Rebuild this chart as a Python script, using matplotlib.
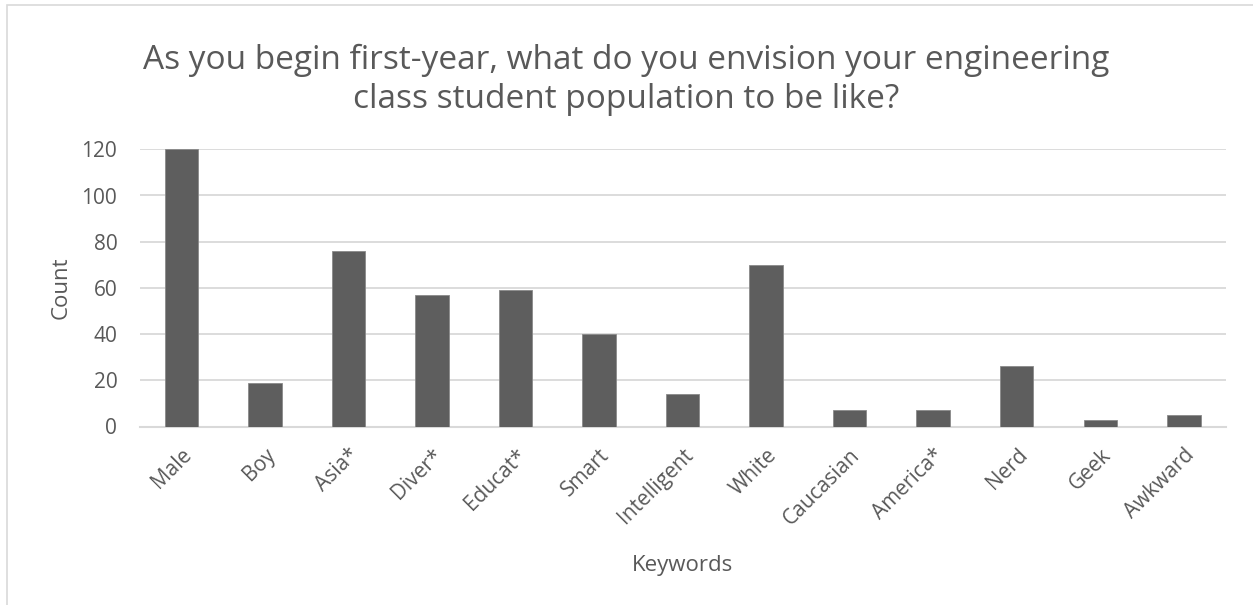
import matplotlib.pyplot as plt
from matplotlib.patches import Rectangle

# data
keywords = ['Male', 'Boy', 'Asia*', 'Diver*', 'Educat*', 'Smart', 'Intelligent',
            'White', 'Caucasian', 'America*', 'Nerd', 'Geek', 'Awkward']
counts = [120, 19, 76, 57, 59, 40, 14, 70, 7, 7, 26, 3, 5]
y_ticks = [0, 20, 40, 60, 80, 100, 120]

txt = '#595959'
bar_col = '#5e5e5e'
grid = '#d9d9d9'
plt.rcParams['font.family'] = ['Open Sans', 'DejaVu Sans']

W, H = 1253, 605
fig = plt.figure(figsize=(W / 100, H / 100), dpi=100)

# chart border (cropped at right and bottom in the reference)
fig.patches.append(Rectangle((7 / W, -0.1), 1.2, 1 - 5 / H + 0.1, transform=fig.transFigure,
                             fill=False, edgecolor=grid, linewidth=1.2))

left, right, top, bottom = 139.5, 1225.6, 149.3, 426.5
ax_w, ax_h = right - left, bottom - top
ax = fig.add_axes([left / W, 1 - bottom / H, ax_w / W, ax_h / H])

x = range(len(keywords))
ax.bar(x, counts, width=0.4, color=bar_col, edgecolor='#8a8a8a', linewidth=0.6, zorder=3)

ax.set_xlim(-0.5, len(keywords) - 0.5)
ax.set_ylim(0, 120)
ax.set_yticks(y_ticks)
ax.yaxis.grid(True, color=grid, linewidth=1.3, zorder=0)
for s in ['top', 'right', 'left']:
    ax.spines[s].set_visible(False)
ax.spines['bottom'].set_color(grid)
ax.spines['bottom'].set_linewidth(1.5)
ax.tick_params(axis='both', length=0, colors=txt, labelsize=15)
ax.tick_params(axis='y', pad=16)
ax.set_xticks(list(x))
ax.set_xticklabels(keywords, rotation=45, ha='right', va='top', rotation_mode='anchor')
ax.tick_params(axis='x', pad=13)

ax.set_ylabel('Count', fontsize=16, color=txt)
ax.yaxis.set_label_coords((72 - left) / ax_w, 0.5)
ax.set_xlabel('Keywords', fontsize=16, color=txt)
ax.xaxis.set_label_coords(0.5, -(555 - bottom) / ax_h)

fig.text(0.5, 1 - 80 / H,
         'As you begin first-year, what do you envision your engineering\nclass student population to be like?',
         ha='center', va='center', fontsize=24, color=txt, linespacing=1.22)

fig.savefig('out.png', dpi=100)
